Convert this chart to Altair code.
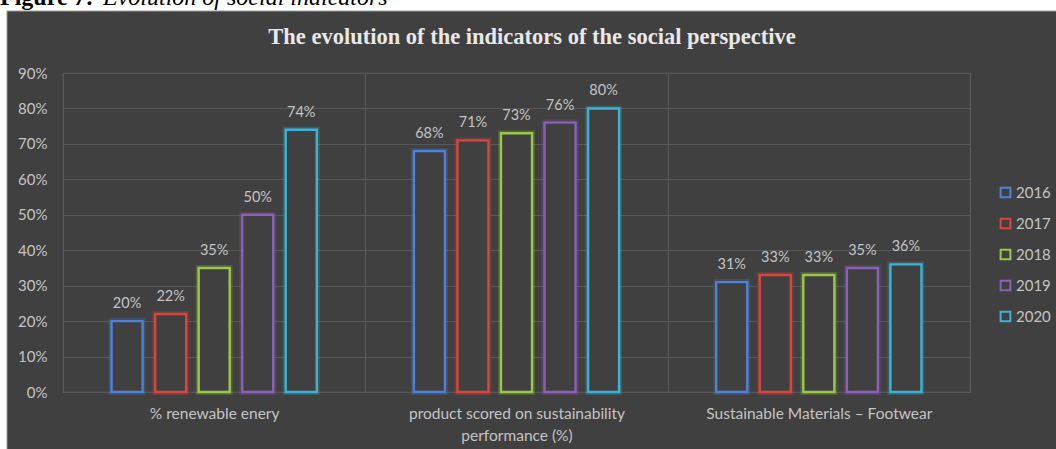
import altair as alt
import pandas as pd

categories = [
    "% renewable enery",
    "product scored on sustainability performance (%)",
    "Sustainable Materials – Footwear",
]
years = ["2016", "2017", "2018", "2019", "2020"]
values_2016 = [0.20, 0.68, 0.31]
values_2017 = [0.22, 0.71, 0.33]
values_2018 = [0.35, 0.73, 0.33]
values_2019 = [0.50, 0.76, 0.35]
values_2020 = [0.74, 0.80, 0.36]
y_ticks = [0.0, 0.1, 0.2, 0.3, 0.4, 0.5, 0.6, 0.7, 0.8, 0.9]
colors = ["#4f81d8", "#d9463e", "#9bc84a", "#8c5fb8", "#3ab4d6"]

title_text = "The evolution of the indicators of the social perspective"
caption_bold = "Figure 7:"
caption_italic = "Evolution of social indicators"

BG = "#404040"
GRID = "#585858"
LABEL = "#c4c4c4"

rows = []
for yr, vals in zip(years, [values_2016, values_2017, values_2018, values_2019, values_2020]):
    for c, v in zip(categories, vals):
        rows.append({"category": c, "year": yr, "value": v})
df = pd.DataFrame(rows)

label_expr = (
    "datum.label == 'product scored on sustainability performance (%)' ? "
    "['product scored on sustainability', 'performance (%)'] : datum.label"
)

x_enc = alt.X(
    "category:N",
    sort=categories,
    scale=alt.Scale(paddingInner=0, paddingOuter=0),
    axis=alt.Axis(
        title=None, labelAngle=0, domain=False, ticks=False, grid=True,
        gridColor=GRID, gridWidth=1.2, tickBand="extent", labelExpr=label_expr,
        labelFont="Lato", labelFontSize=15.5, labelColor=LABEL, labelPadding=14,
        labelLineHeight=22, labelLimit=500,
    ),
)
# two empty slots frame the five year slots inside each category band
offset_domain = ["_left"] + years + ["_right"]
xoff = alt.XOffset(
    "year:N",
    scale=alt.Scale(domain=offset_domain, paddingInner=0.287, paddingOuter=0.115),
)
y_enc = alt.Y(
    "value:Q",
    scale=alt.Scale(domain=[0, 0.9], nice=False),
    axis=alt.Axis(
        title=None, values=y_ticks, format=".0%", domain=False, ticks=False,
        grid=True, gridColor=GRID, gridWidth=1.2, labelFont="Lato",
        labelFontSize=15, labelColor=LABEL, labelPadding=16,
    ),
)
stroke_enc = alt.Stroke(
    "year:N",
    scale=alt.Scale(domain=years, range=colors),
    legend=alt.Legend(
        title=None, orient="none", legendX=935, legendY=112,
        symbolType="square", symbolSize=95, symbolStrokeWidth=2,
        symbolFillColor=BG, labelFont="Lato", labelFontSize=15,
        labelColor=LABEL, rowPadding=12, labelOffset=3,
    ),
)

base = alt.Chart(df)

glow = base.mark_bar(fill=None, strokeWidth=6, strokeOpacity=0.22).encode(
    x=x_enc, xOffset=xoff, y=y_enc, stroke=stroke_enc,
)

bars = base.mark_bar(fill=BG, strokeWidth=2.4).encode(
    x=x_enc, xOffset=xoff, y=y_enc, stroke=stroke_enc,
)

labels = base.mark_text(
    baseline="alphabetic", dy=-13, font="Lato", fontSize=14.5, color=LABEL
).encode(
    x=x_enc, xOffset=xoff, y=y_enc,
    text=alt.Text("value:Q", format=".0%"),
)

one = alt.Data(values=[{"k": 1}])
top_strip = alt.Chart(one).mark_rect(color="white").encode(
    x=alt.value(-63), x2=alt.value(993), y=alt.value(-73), y2=alt.value(-62)
)
left_strip = alt.Chart(one).mark_rect(color="white").encode(
    x=alt.value(-63), x2=alt.value(-56), y=alt.value(-73), y2=alt.value(376)
)
border_top = alt.Chart(one).mark_rule(color="#9a9a9a", strokeWidth=1).encode(
    x=alt.value(-56), x2=alt.value(993), y=alt.value(-62)
)
border_left = alt.Chart(one).mark_rule(color="#9a9a9a", strokeWidth=1).encode(
    x=alt.value(-56), y=alt.value(-62), y2=alt.value(376)
)
cap1 = alt.Chart(one).mark_text(
    text=caption_bold, font="Liberation Serif", fontWeight="bold", fontSize=24,
    align="left", baseline="alphabetic", color="black",
).encode(x=alt.value(-63), y=alt.value(-68))
cap2 = alt.Chart(one).mark_text(
    text=caption_italic, font="Liberation Serif", fontStyle="italic", fontSize=24,
    align="left", baseline="alphabetic", color="black",
).encode(x=alt.value(40), y=alt.value(-68))
title = alt.Chart(one).mark_text(
    text=title_text, font="Liberation Serif", fontWeight="bold", fontSize=22.5,
    align="center", baseline="alphabetic", color="#e8e8e8",
).encode(x=alt.value(469), y=alt.value(-29))

chart = alt.layer(
    glow, bars, labels, top_strip, left_strip, border_top, border_left,
    cap1, cap2, title,
).properties(
    width=907, height=319,
    background=BG,
    padding={"left": 63, "top": 73, "right": 86, "bottom": 57},
    autosize=alt.AutoSizeParams(type="none"),
).configure_view(stroke=GRID, strokeWidth=1.2)

chart.save("out.html", embed_options={"renderer": "svg", "actions": False})
